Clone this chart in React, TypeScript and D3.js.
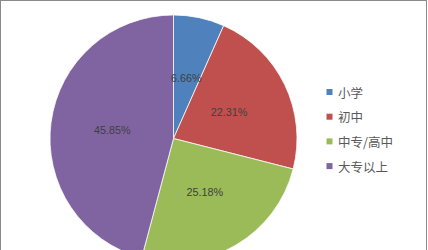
import React from "react";
import * as d3 from "d3";

// Share of respondents by education level (percent)
const categories = ["小学", "初中", "中专/高中", "大专以上"];
const values = [6.66, 22.31, 25.18, 45.85];
const colors = ["#4f81bd", "#c0504d", "#9bbb59", "#8064a2"];

const W = 428;
const H = 250;
const cx = 173.5;
const cy = 138.5;
const R = 123.5;

export default function App() {
  const pie = d3
    .pie<number>()
    .sort(null)
    .value((d) => d);
  const arcs = pie(values);
  const arc = d3.arc<d3.PieArcDatum<number>>().innerRadius(0).outerRadius(R);

  const legendX = 326.5;
  const legendY0 = 92;
  const legendStep = 24.7;

  return (
    <svg
      width={W}
      height={H}
      style={{ position: "fixed", left: 0, top: 0, background: "#fff" }}
      fontFamily="'Noto Sans CJK SC', 'Noto Sans', sans-serif"
    >
      <rect x={0.5} y={0.5} width={W - 2} height={H + 10} fill="#fff" stroke="#8a8a8a" strokeWidth={1} />
      <g transform={`translate(${cx},${cy})`}>
        {arcs.map((a, i) => (
          <path key={categories[i]} d={arc(a) || ""} fill={colors[i]} stroke="#fff" strokeWidth={0.75} />
        ))}
        {arcs.map((a, i) => {
          const [x, y] = arc.centroid(a);
          return (
            <text
              key={"l" + i}
              x={x}
              y={y}
              textAnchor="middle"
              dominantBaseline="central"
              fontSize={10.8}
              fill="#404040"
              fontFamily="'Liberation Sans', 'Noto Sans', sans-serif"
            >
              {values[i].toFixed(2)}%
            </text>
          );
        })}
      </g>
      {categories.map((c, i) => {
        const y = legendY0 + i * legendStep;
        return (
          <g key={"lg" + i}>
            <rect x={legendX} y={y - 3} width={6} height={6} fill={colors[i]} />
            <text x={legendX + 11.5} y={y} dominantBaseline="central" fontSize={12.5} fill="#595959">
              {c}
            </text>
          </g>
        );
      })}
    </svg>
  );
}
